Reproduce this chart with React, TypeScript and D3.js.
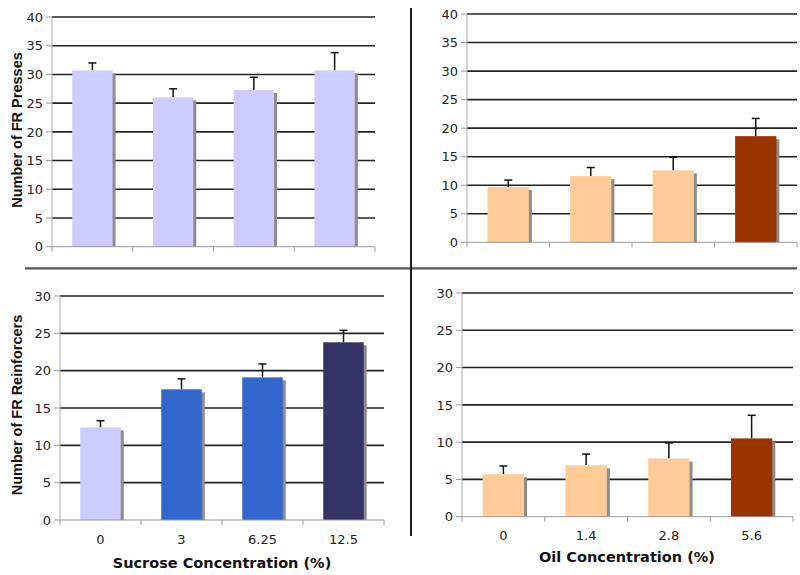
import React from "react";
import * as d3 from "d3";

const WIDTH = 800;
const HEIGHT = 575;

// values
const sucroseLevels = ["0", "3", "6.25", "12.5"];
const oilLevels = ["0", "1.4", "2.8", "5.6"];

const sucrosePresses = [30.7, 26.0, 27.3, 30.7];
const sucrosePressesErr = [1.3, 1.5, 2.2, 3.1];
const oilPresses = [9.7, 11.6, 12.6, 18.6];
const oilPressesErr = [1.2, 1.5, 2.3, 3.1];

const sucroseReinforcers = [12.4, 17.5, 19.1, 23.8];
const sucroseReinforcersErr = [0.9, 1.4, 1.8, 1.6];
const oilReinforcers = [5.7, 6.9, 7.8, 10.5];
const oilReinforcersErr = [1.1, 1.5, 2.1, 3.1];

const pressColors = ["#ccccff", "#ccccff", "#ccccff", "#ccccff"];
const sucroseColors = ["#ccccff", "#3366cc", "#3366cc", "#333366"];
const oilColors = ["#ffcc99", "#ffcc99", "#ffcc99", "#993300"];

const pressTicks = [0, 5, 10, 15, 20, 25, 30, 35, 40];
const reinfTicks = [0, 5, 10, 15, 20, 25, 30];

const TICK_FONT = "'DejaVu Sans', Verdana, sans-serif";

interface PanelProps {
    left: number;
    right: number;
    top: number;
    bottom: number;
    max: number;
    ticks: number[];
    cats: string[];
    values: number[];
    errors: number[];
    colors: string[];
    showCats: boolean;
}

const Panel: React.FC<PanelProps> = (p) => {
    const x = d3.scaleBand<string>()
        .domain(p.cats)
        .range([p.left, p.right])
        .paddingInner(0.5)
        .paddingOuter(0.25);
    const y = d3.scaleLinear().domain([0, p.max]).range([p.bottom, p.top]);
    const step = x.step();
    const bw = x.bandwidth();

    return (
        <g>
            {/* gridlines */}
            {p.ticks.filter(t => t > 0).map(t => (
                <line key={"g" + t} x1={p.left} x2={p.right} y1={y(t)} y2={y(t)}
                      stroke="#222" strokeWidth={1.6}/>
            ))}
            {/* y axis */}
            <line x1={p.left} x2={p.left} y1={p.top} y2={p.bottom} stroke="#aaa" strokeWidth={1}/>
            {p.ticks.map(t => (
                <g key={"t" + t}>
                    <line x1={p.left - 6} x2={p.left} y1={y(t)} y2={y(t)} stroke="#999" strokeWidth={1}/>
                    <text x={p.left - 9} y={y(t)} dy="0.36em" textAnchor="end"
                          fontFamily={TICK_FONT} fontSize={13} fill="#222">{t}</text>
                </g>
            ))}
            {/* bars with drop shadow */}
            {p.cats.map((c, i) => {
                const bx = x(c)!;
                const top = y(p.values[i]);
                const errTop = y(p.values[i] + p.errors[i]);
                const cx = bx + bw / 2;
                return (
                    <g key={"b" + c}>
                        <rect x={bx + 3} y={top + 3} width={bw} height={p.bottom - top - 3} fill="#8c8c8c"/>
                        <line x1={cx} x2={cx} y1={top} y2={errTop} stroke="#111" strokeWidth={1.5}/>
                        <line x1={cx - 4} x2={cx + 4} y1={errTop} y2={errTop} stroke="#111" strokeWidth={1.5}/>
                        <rect x={bx} y={top} width={bw} height={p.bottom - top} fill={p.colors[i]}/>
                    </g>
                );
            })}
            {/* x axis */}
            <line x1={p.left} x2={p.right} y1={p.bottom} y2={p.bottom} stroke="#999" strokeWidth={1}/>
            {d3.range(p.cats.length + 1).map(k => (
                <line key={"xt" + k} x1={p.left + k * step} x2={p.left + k * step}
                      y1={p.bottom} y2={p.bottom + 5} stroke="#999" strokeWidth={1}/>
            ))}
            {p.showCats && p.cats.map(c => (
                <text key={"xl" + c} x={x(c)! + bw / 2} y={p.bottom + 19} dy="0.36em" textAnchor="middle"
                      fontFamily={TICK_FONT} fontSize={13} fill="#222">{c}</text>
            ))}
        </g>
    );
};

export default function App() {
    return (
        <svg width={WIDTH} height={HEIGHT}
             style={{position: "absolute", left: 0, top: 0, background: "#fff"}}>
            <Panel left={52} right={375} top={17} bottom={246.7} max={40} ticks={pressTicks}
                   cats={sucroseLevels} values={sucrosePresses} errors={sucrosePressesErr}
                   colors={pressColors} showCats={false}/>
            <Panel left={467} right={797} top={14} bottom={242.3} max={40} ticks={pressTicks}
                   cats={oilLevels} values={oilPresses} errors={oilPressesErr}
                   colors={oilColors} showCats={false}/>
            <Panel left={60} right={384} top={296} bottom={520} max={30} ticks={reinfTicks}
                   cats={sucroseLevels} values={sucroseReinforcers} errors={sucroseReinforcersErr}
                   colors={sucroseColors} showCats={true}/>
            <Panel left={462} right={793} top={293} bottom={516.7} max={30} ticks={reinfTicks}
                   cats={oilLevels} values={oilReinforcers} errors={oilReinforcersErr}
                   colors={oilColors} showCats={true}/>

            {/* axis titles */}
            <text transform="translate(17,130) rotate(-90)" textAnchor="middle" dy="0.36em"
                  fontFamily="'Liberation Sans', Arial, sans-serif" fontWeight="bold" fontSize={14.5}
                  fill="#111">Number of FR Presses</text>
            <text transform="translate(17,405) rotate(-90)" textAnchor="middle" dy="0.36em"
                  fontFamily="'Liberation Sans', Arial, sans-serif" fontWeight="bold" fontSize={14.5}
                  fill="#111">Number of FR Reinforcers</text>
            <text x={222} y={563} dy="0.36em" textAnchor="middle" fontFamily={TICK_FONT}
                  fontWeight="bold" fontSize={14.5} fill="#111">Sucrose Concentration (%)</text>
            <text x={627} y={557} dy="0.36em" textAnchor="middle" fontFamily={TICK_FONT}
                  fontWeight="bold" fontSize={14.5} fill="#111">Oil Concentration (%)</text>

            {/* quadrant dividers */}
            <line x1={25} x2={797} y1={268.3} y2={268.3} stroke="#555" strokeWidth={2.2}/>
            <line x1={411} x2={411} y1={8} y2={536} stroke="#1a1a1a" strokeWidth={2}/>
        </svg>
    );
}
